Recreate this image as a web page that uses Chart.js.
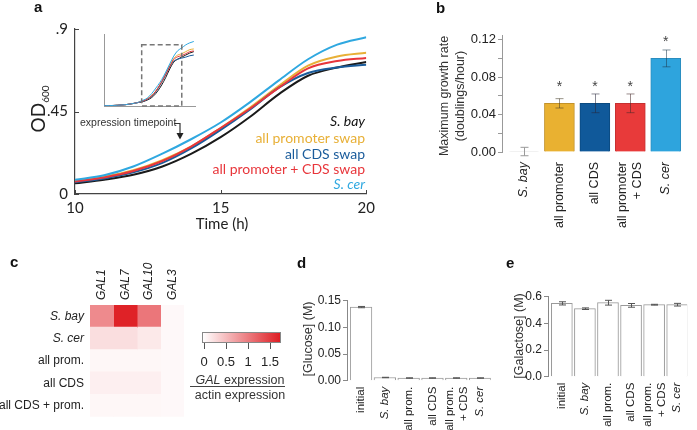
<!DOCTYPE html>
<html><head><meta charset="utf-8">
<script src="https://cdn.jsdelivr.net/npm/chart.js@4.4.1/dist/chart.umd.min.js"></script>
<style>
html,body{margin:0;padding:0;background:#fff;}
#wrap{position:relative;width:697px;height:430px;overflow:hidden;font-family:"Liberation Sans",Arial,sans-serif;color:#222;background:#fff;}
canvas{position:absolute;}
.t{position:absolute;white-space:nowrap;line-height:1;}
.plab{font-weight:bold;font-size:15px;color:#111;}
.rot{transform:translate(-50%,-50%) rotate(-90deg);}
.lg{position:absolute;white-space:nowrap;line-height:1;font-family:Lato,sans-serif;font-size:14px;text-align:right;right:332px;}
</style></head>
<body><div id="wrap">
<canvas id="cA" width="380" height="230" style="left:0;top:0"></canvas>
<canvas id="cIn" width="110" height="90" style="left:90px;top:25px"></canvas>
<canvas id="cB" width="337" height="230" style="left:360px;top:0"></canvas>
<canvas id="cC" width="200" height="200" style="left:0;top:230px"></canvas>
<canvas id="cD" width="210" height="200" style="left:290px;top:230px"></canvas>
<canvas id="cE" width="207" height="200" style="left:490px;top:230px"></canvas>

<div class="t plab" style="left:34px;top:-1px">a</div>
<div class="t plab" style="left:436px;top:0px">b</div>
<div class="t plab" style="left:10px;top:254px">c</div>
<div class="t plab" style="left:297px;top:255px">d</div>
<div class="t plab" style="left:506px;top:255px">e</div>

<div class="t rot" style="left:39px;top:109px;font-family:Lato,sans-serif;font-size:19px;color:#222">OD<sub style="font-size:10px;vertical-align:-4px">600</sub></div>
<div class="t" style="left:222px;top:216px;transform:translateX(-50%);font-family:Lato,sans-serif;font-size:15px;color:#222">Time (h)</div>

<div class="lg" style="top:114px;color:#111;font-style:italic">S. bay</div>
<div class="lg" style="top:131px;color:#e8b037">all promoter swap</div>
<div class="lg" style="top:147px;color:#1b5c9b">all CDS swap</div>
<div class="lg" style="top:162px;color:#e8363b">all promoter + CDS swap</div>
<div class="lg" style="top:177px;color:#2fa8e0;font-style:italic">S. cer</div>

<div class="t" style="left:80px;top:117px;font-size:10.5px;color:#333">expression timepoint</div>
<svg style="position:absolute;left:0;top:0" width="697" height="430">
  <path d="M174 123.5 H180 V134" stroke="#333" stroke-width="1.2" fill="none"/>
  <path d="M176.5 133 L183.5 133 L180 139.5 Z" fill="#222"/>
</svg>

<div class="t rot" style="left:452px;top:96px;font-size:12.5px;color:#333;text-align:center;line-height:16px">Maximum growth rate<br>(doublings/hour)</div>
<div class="t rot" style="left:308px;top:339px;font-size:12.5px;color:#333">[Glucose] (M)</div>
<div class="t rot" style="left:519px;top:336px;font-size:12.5px;color:#333">[Galactose] (M)</div>

<div id="cbar" style="position:absolute;left:202px;top:332px;width:77px;height:9px;border:1px solid #888;"></div>
<div id="cbticks"></div>
<div class="t" style="left:240px;top:374px;transform:translateX(-50%);font-size:12.5px;color:#333"><i>GAL</i> expression</div>
<div style="position:absolute;left:190px;top:386px;width:95px;height:0;border-top:1px solid #444"></div>
<div class="t" style="left:240px;top:389px;transform:translateX(-50%);font-size:12.5px;color:#333">actin expression</div>
</div>
<script>
// ---------- Panel a data ----------
const timeA = [10,11,12,13,14,15,16,17,18,19,20];
const odSbay     = [0.058,0.078,0.105,0.150,0.220,0.310,0.420,0.545,0.645,0.690,0.720];
const odPromoter = [0.072,0.095,0.130,0.185,0.260,0.360,0.470,0.590,0.700,0.750,0.770];
const odCDS      = [0.064,0.085,0.118,0.170,0.250,0.350,0.460,0.580,0.660,0.690,0.705];
const odPromCDS  = [0.068,0.090,0.125,0.180,0.260,0.360,0.465,0.580,0.685,0.725,0.742];
const odScer     = [0.078,0.102,0.150,0.220,0.300,0.390,0.500,0.620,0.735,0.815,0.855];
const yTicksA = [0, 0.45, 0.9];
const yTickLabelsA = ['0', '.45', '.9'];
const xTicksA = [10, 15, 20];
// inset (full time course)
const insetEarlyTime = [0,1,2,3,4,5,6,7,8,9];
const insetEarly = [0.004,0.005,0.006,0.008,0.011,0.015,0.020,0.028,0.038,0.050];
const insetLateTime = [21,22,23];
const lateSbay = [0.75,0.78,0.80];
const latePromoter = [0.80,0.83,0.84];
const lateCDS = [0.72,0.74,0.75];
const latePromCDS = [0.77,0.80,0.81];
const lateScer = [0.90,0.93,0.95];
const insetBox = [10, 20, 0, 0.9];
// ---------- Panel b data ----------
const growthCats = ['S. bay', 'all promoter', 'all CDS', ['all promoter', '+ CDS'], 'S. cer'];
const growthRate = [0.0005, 0.052, 0.052, 0.052, 0.100];
const growthErr  = [0.0045, 0.005, 0.010, 0.010, 0.009];
const growthSig  = [false, true, true, true, true];
const growthTicks = [0, 0.02, 0.04, 0.06, 0.08, 0.10, 0.12];
// ---------- Panel c data ----------
const genes = ['GAL1', 'GAL7', 'GAL10', 'GAL3'];
const strains = ['S. bay', 'S. cer', 'all prom.', 'all CDS', 'all CDS + prom.'];
const exprSbay    = [0.90, 1.70, 1.05, 0.05];
const exprScer    = [0.25, 0.25, 0.17, 0.05];
const exprProm    = [0.06, 0.06, 0.06, 0.05];
const exprCDS     = [0.12, 0.12, 0.12, 0.05];
const exprCDSProm = [0.06, 0.06, 0.06, 0.05];
const cbTicks = [0, 0.5, 1, 1.5];
const cbMax = 1.73;
// ---------- Panels d, e data ----------
const sugarCats = ['initial', 'S. bay', 'all prom.', 'all CDS', ['all prom.', '+ CDS'], 'S. cer'];
const glucose    = [0.138, 0.006, 0.005, 0.005, 0.005, 0.005];
const glucoseErr = [0.0012, 0.0004, 0.0003, 0.0003, 0.0003, 0.0003];
const glucoseTicks = [0, 0.05, 0.10, 0.15];
const galactose    = [0.550, 0.510, 0.555, 0.535, 0.540, 0.540];
const galactoseErr = [0.012, 0.006, 0.018, 0.014, 0.003, 0.010];
const galactoseTicks = [0, 0.2, 0.4, 0.6];

const SANS = '"Liberation Sans", Arial, sans-serif';
const colSbay = '#1a1a1a', colProm = '#e8b037', colCDS = '#1b5c9b', colPromCDS = '#e8363b', colScer = '#2fa8e0';

// ---------- plugins ----------
const inwardTicks = {
  id: 'inwardTicks',
  afterDraw(chart, args, o) {
    const {ctx, chartArea: ca, scales: {x, y}} = chart;
    ctx.save(); ctx.strokeStyle = o.color; ctx.lineWidth = 1;
    x.ticks.forEach(t => { const p = Math.round(x.getPixelForValue(t.value)) + 0.5; ctx.beginPath(); ctx.moveTo(p, ca.bottom); ctx.lineTo(p, ca.bottom - o.len); ctx.stroke(); });
    y.ticks.forEach(t => { const p = Math.round(y.getPixelForValue(t.value)) + 0.5; ctx.beginPath(); ctx.moveTo(ca.left, p); ctx.lineTo(ca.left + o.len, p); ctx.stroke(); });
    ctx.restore();
  }
};
const boxPlugin = {
  id: 'boxPlugin',
  afterDatasetsDraw(chart, args, o) {
    const {ctx, scales: {x, y}} = chart;
    const x0 = x.getPixelForValue(o.box[0]), x1 = x.getPixelForValue(o.box[1]);
    const y0 = y.getPixelForValue(o.box[2]), y1 = y.getPixelForValue(o.box[3]);
    ctx.save(); ctx.strokeStyle = '#777'; ctx.lineWidth = 1.5; ctx.setLineDash([5, 3]);
    ctx.strokeRect(x0, y1, x1 - x0, y0 - y1); ctx.restore();
  }
};
const errorBars = {
  id: 'errorBars',
  afterDatasetsDraw(chart, args, o) {
    if (!o.errors) return;
    const {ctx} = chart; const y = chart.scales.y;
    const meta = chart.getDatasetMeta(0); const vals = chart.data.datasets[0].data;
    ctx.save();
    meta.data.forEach((bar, i) => {
      const v = vals[i].y, e = o.errors[i];
      const yt = y.getPixelForValue(v + e), yb = y.getPixelForValue(v - e);
      const x = Math.round(bar.x) + 0.5, c = o.cap;
      ctx.strokeStyle = Array.isArray(o.color) ? o.color[i] : o.color; ctx.lineWidth = 1;
      ctx.beginPath();
      ctx.moveTo(x, yt); ctx.lineTo(x, yb);
      ctx.moveTo(x - c, yt); ctx.lineTo(x + c, yt);
      ctx.moveTo(x - c, yb); ctx.lineTo(x + c, yb);
      ctx.stroke();
      if (o.stars && o.stars[i]) {
        ctx.fillStyle = '#444'; ctx.font = '14px ' + SANS; ctx.textAlign = 'center'; ctx.textBaseline = 'middle';
        ctx.fillText('*', bar.x, y.getPixelForValue(v) - 16);
      }
    });
    ctx.restore();
  }
};

// ---------- Panel a ----------
const xy = (ts, vs) => ts.map((t, i) => ({x: t, y: vs[i]}));
const lineDs = (vals, col) => ({data: xy(timeA, vals), borderColor: col, borderWidth: 2, pointRadius: 0, cubicInterpolationMode: 'monotone', fill: false});
new Chart(document.getElementById('cA'), {
  type: 'line',
  data: {datasets: [lineDs(odScer, colScer), lineDs(odPromCDS, colPromCDS), lineDs(odCDS, colCDS), lineDs(odPromoter, colProm), lineDs(odSbay, colSbay)]},
  options: {
    responsive: false, animation: false, devicePixelRatio: 1,
    layout: {padding: {left: 0, top: 29, right: 13, bottom: 0}},
    plugins: {legend: {display: false}, tooltip: {enabled: false}, inwardTicks: {color: '#444', len: 4}},
    scales: {
      x: {type: 'linear', min: 10, max: 20,
          afterBuildTicks: s => { s.ticks = xTicksA.map(v => ({value: v})); },
          afterFit: s => { s.height = 36; },
          grid: {drawOnChartArea: false, drawTicks: false}, border: {display: true, color: '#444', width: 1.2},
          ticks: {font: {family: 'Lato', size: 15}, color: '#222', padding: 5, maxRotation: 0, autoSkip: false}},
      y: {min: 0, max: 0.9,
          afterBuildTicks: s => { s.ticks = yTicksA.map(v => ({value: v})); },
          afterFit: s => { s.width = 75; },
          grid: {drawOnChartArea: false, drawTicks: false}, border: {display: true, color: '#444', width: 1.2},
          ticks: {font: {family: 'Lato', size: 15}, color: '#222', padding: 7, autoSkip: false,
                  callback: (v, i) => yTickLabelsA[i]}}
    }
  },
  plugins: [inwardTicks]
});

// ---------- inset ----------
const insetDs = (vals, late, col) => ({
  data: xy(insetEarlyTime, insetEarly).concat(xy(timeA, vals), xy(insetLateTime, late)),
  borderColor: col, borderWidth: 1, pointRadius: 0, cubicInterpolationMode: 'monotone', fill: false});
new Chart(document.getElementById('cIn'), {
  type: 'line',
  data: {datasets: [insetDs(odScer, lateScer, colScer), insetDs(odPromCDS, latePromCDS, colPromCDS), insetDs(odCDS, lateCDS, colCDS), insetDs(odPromoter, latePromoter, colProm), insetDs(odSbay, lateSbay, colSbay)]},
  options: {
    responsive: false, animation: false, devicePixelRatio: 1,
    layout: {padding: {left: 14, top: 9, right: 5, bottom: 9}},
    plugins: {legend: {display: false}, tooltip: {enabled: false}, boxPlugin: {box: insetBox}},
    scales: {
      x: {type: 'linear', min: 0.6, max: 23.3, afterFit: s => { s.height = 0; },
          grid: {display: false, drawTicks: false}, border: {display: true, color: '#999', width: 1}, ticks: {display: false}},
      y: {min: 0, max: 1.06, afterFit: s => { s.width = 0; },
          grid: {display: false, drawTicks: false}, border: {display: true, color: '#999', width: 1}, ticks: {display: false}}
    }
  },
  plugins: [boxPlugin]
});

// ---------- Panel b ----------
const idxData = vals => vals.map((v, i) => ({x: i, y: v}));
const italicIdx = (cats, size) => (ctx) => {
  const lab = cats[ctx.index];
  const it = typeof lab === 'string' && lab.startsWith('S. ');
  return {family: SANS, size: size, style: it ? 'italic' : 'normal'};
};
// two-line labels: centre the block of lines on the bar (half a line, in axis units)
const catTicks = (cats, halfLine) => s => { s.ticks = cats.map((c, i) => ({value: i - (Array.isArray(c) ? halfLine : 0)})); };
new Chart(document.getElementById('cB'), {
  type: 'bar',
  data: {datasets: [{data: idxData(growthRate),
    backgroundColor: ['#dddddd', '#e9b131', '#10599a', '#e83a3a', '#2ea4dd'],
    borderColor: ['#aaaaaa', '#c3922a', '#0b4a80', '#c53030', '#2a8dbf'],
    borderWidth: 1, barThickness: 30}]},
  options: {
    responsive: false, animation: false, devicePixelRatio: 1,
    layout: {padding: {left: 0, top: 35, right: 10, bottom: 0}},
    plugins: {legend: {display: false}, tooltip: {enabled: false},
      errorBars: {errors: growthErr, cap: 4, stars: growthSig,
        color: ['#9a9a9a', 'rgba(70,60,40,0.55)', 'rgba(40,40,60,0.55)', 'rgba(70,40,40,0.55)', 'rgba(30,60,80,0.55)']}},
    scales: {
      x: {type: 'linear', min: -0.62, max: 4.6, offset: false,
          afterBuildTicks: catTicks(growthCats, 0.21),
          afterFit: s => { s.height = 78; },
          grid: {display: false, drawTicks: false, offset: false}, border: {display: false},
          ticks: {autoSkip: false, minRotation: 90, maxRotation: 90, padding: 10, color: '#222',
                  font: italicIdx(growthCats, 12.5), callback: (v, i) => growthCats[i]}},
      y: {min: 0, max: 0.125,
          afterBuildTicks: s => { s.ticks = growthTicks.map(v => ({value: v})); },
          afterFit: s => { s.width = 142; },
          grid: {drawOnChartArea: false, drawTicks: true, tickLength: 4, color: '#999'},
          border: {display: true, color: '#999', width: 1},
          ticks: {autoSkip: false, padding: 2, color: '#222', font: {family: SANS, size: 13},
                  callback: v => (Math.round(v * 100) % 4 === 0) ? v.toFixed(2) : ''}}
    }
  },
  plugins: [errorBars]
});

// ---------- Panel c ----------
const exprMatrix = [exprSbay, exprScer, exprProm, exprCDS, exprCDSProm];
const heatColor = v => {
  const f = Math.max(0, Math.min(1, v / 1.75));
  return `rgb(${Math.round(255 - 33 * f)},${Math.round(255 - 228 * f)},${Math.round(255 - 222 * f)})`;
};
new Chart(document.getElementById('cC'), {
  type: 'bar',
  data: {labels: strains,
    datasets: genes.map((g, gi) => ({label: g, data: strains.map(() => 1),
      backgroundColor: exprMatrix.map(row => heatColor(row[gi])), borderWidth: 0,
      barPercentage: 1, categoryPercentage: 1, inflateAmount: 0.5}))},
  options: {
    indexAxis: 'y', responsive: false, animation: false, devicePixelRatio: 1,
    layout: {padding: {left: 0, top: 0, right: 16, bottom: 6}},
    plugins: {legend: {display: false}, tooltip: {enabled: false}},
    scales: {
      x: {type: 'linear', stacked: true, min: 0, max: genes.length, display: false},
      x2: {type: 'category', labels: genes, position: 'top', offset: true,
           afterFit: s => { s.height = 75; },
           grid: {display: false, drawTicks: false}, border: {display: false},
           ticks: {autoSkip: false, minRotation: 90, maxRotation: 90, padding: 5, labelOffset: 14.4, color: '#222',
                   font: {family: SANS, size: 12, style: 'italic'}}},
      y: {type: 'category', stacked: true,
          afterFit: s => { s.width = 90; },
          grid: {display: false, drawTicks: false}, border: {display: false},
          ticks: {autoSkip: false, padding: 6, color: '#222',
                  font: ctx => ({family: SANS, size: 12, style: strains[ctx.index].startsWith('S. ') ? 'italic' : 'normal'})}}
    }
  }
});
// colour bar
document.getElementById('cbar').style.background = `linear-gradient(to right, ${heatColor(0)}, ${heatColor(cbMax)})`;
(function(){
  const host = document.getElementById('cbticks');
  cbTicks.forEach(v => {
    const x = 204 + v * 44;
    const tk = document.createElement('div');
    tk.style.cssText = `position:absolute;left:${x}px;top:343px;width:0;height:6px;border-left:1px solid #555`;
    host.appendChild(tk);
    const lb = document.createElement('div');
    lb.className = 't';
    lb.style.cssText = `left:${x}px;top:355px;transform:translateX(-50%);font-size:13px;color:#222`;
    lb.textContent = String(v);
    host.appendChild(lb);
  });
})();

// ---------- Panels d, e ----------
function sugarChart(id, vals, errs, ymax, ticks, dec, leftW, topPad, xmin, xmax, thick, rightPad, halfLine) {
  return new Chart(document.getElementById(id), {
    type: 'bar',
    data: {datasets: [{data: idxData(vals), backgroundColor: '#ffffff', borderColor: '#9a9a9a', borderWidth: 1, barThickness: thick}]},
    options: {
      responsive: false, animation: false, devicePixelRatio: 1,
      layout: {padding: {left: 0, top: topPad, right: rightPad, bottom: 0}},
      plugins: {legend: {display: false}, tooltip: {enabled: false}, errorBars: {errors: errs, cap: 3.5, color: '#555'}},
      scales: {
        x: {type: 'linear', min: xmin, max: xmax, offset: false,
            afterBuildTicks: catTicks(sugarCats, halfLine),
            afterFit: s => { s.height = 200 - topPad - 80; },
            grid: {display: false, drawTicks: false, offset: false}, border: {display: false},
            ticks: {autoSkip: false, minRotation: 90, maxRotation: 90, padding: 6, color: '#222',
                    font: italicIdx(sugarCats, 11.5), callback: (v, i) => sugarCats[i]}},
        y: {min: 0, max: ymax,
            afterBuildTicks: s => { s.ticks = ticks.map(v => ({value: v})); },
            afterFit: s => { s.width = leftW; },
            grid: {drawOnChartArea: false, drawTicks: true, tickLength: 4, color: '#888'},
            border: {display: true, color: '#888', width: 1},
            ticks: {autoSkip: false, padding: 2, color: '#222', font: {family: SANS, size: 12},
                    callback: v => v.toFixed(dec)}}
      }
    },
    plugins: [errorBars]
  });
}
sugarChart('cD', glucose, glucoseErr, 0.15, glucoseTicks, 2, 57, 70.7, -0.59, 5.45, 21.7, 1.4, 0.27);
sugarChart('cE', galactose, galactoseErr, 0.6, galactoseTicks, 1, 58, 66.7, -0.6, 5.43, 21, 0, 0.28);
</script>
</body></html>
